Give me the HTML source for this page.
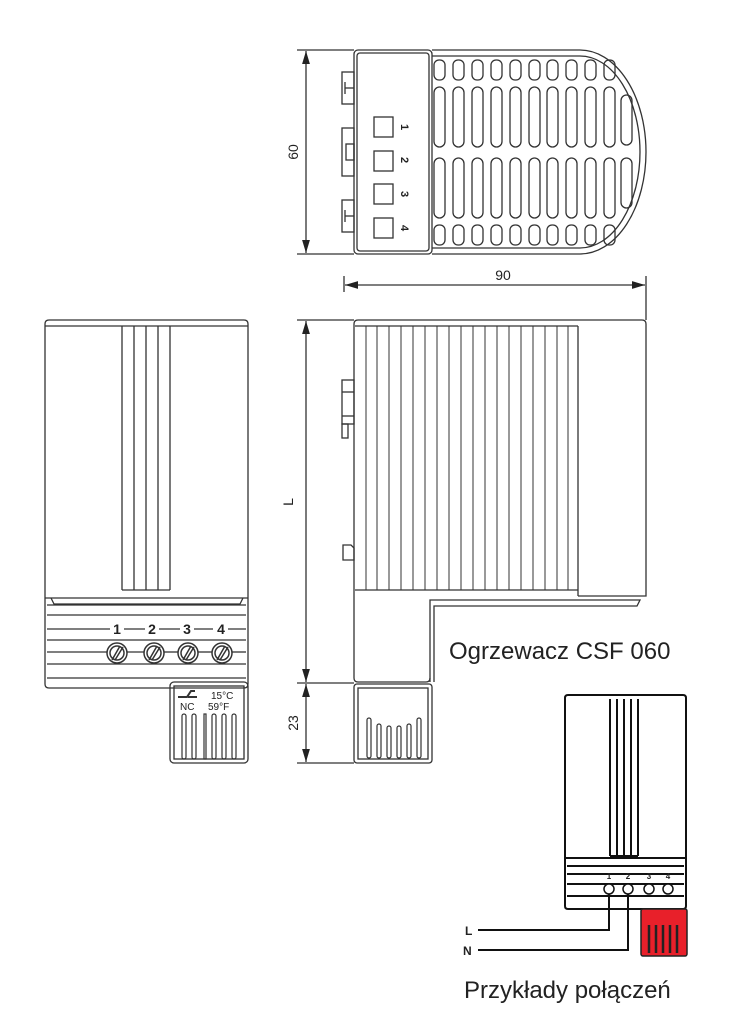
<!DOCTYPE html>
<html><head><meta charset="utf-8"><style>
html,body{margin:0;padding:0;background:#fff;}
svg{display:block;}
text{font-family:"Liberation Sans",sans-serif;fill:#222;}
</style></head><body>
<svg width="751" height="1016" viewBox="0 0 751 1016" xmlns="http://www.w3.org/2000/svg">
<defs>
<marker id="ar" viewBox="0 0 10 6" refX="10" refY="3" markerWidth="10" markerHeight="6" orient="auto-start-reverse"><path d="M0,0 L10,3 L0,6 z" fill="#222"/></marker>
</defs>
<g fill="none" stroke="#333" stroke-width="1.3">
<!-- TOP VIEW -->
<path d="M432,50 H580 A66,102 0 0 1 580,254 H432"/>
<path d="M432,56 H580 A60,96 0 0 1 580,248 H432"/>
<rect x="354" y="50" width="78" height="204" rx="4"/>
<rect x="357" y="53" width="72" height="198" rx="3"/>
<g>
<rect x="342" y="72" width="12" height="32"/><line x1="345" y1="82" x2="345" y2="94"/><line x1="345" y1="88" x2="354" y2="88"/>
<rect x="342" y="128" width="12" height="48"/><rect x="346" y="144" width="8" height="16"/>
<rect x="342" y="200" width="12" height="32"/><line x1="345" y1="210" x2="345" y2="222"/><line x1="345" y1="216" x2="354" y2="216"/>
</g>
<rect x="374" y="117" width="19" height="20"/>
<rect x="374" y="151" width="19" height="20"/>
<rect x="374" y="184" width="19" height="20"/>
<rect x="374" y="218" width="19" height="20"/>
<g id="slots">
<rect x="434" y="60" width="11" height="20" rx="5"/><rect x="434" y="87" width="11" height="60" rx="5.5"/><rect x="434" y="158" width="11" height="60" rx="5.5"/><rect x="434" y="225" width="11" height="20" rx="5"/>
</g>
<use href="#slots" x="19"/><use href="#slots" x="38"/><use href="#slots" x="57"/><use href="#slots" x="76"/><use href="#slots" x="95"/><use href="#slots" x="113"/><use href="#slots" x="132"/><use href="#slots" x="151"/><use href="#slots" x="170"/>
<rect x="621" y="95" width="11" height="50" rx="5.5"/><rect x="621" y="158" width="11" height="50" rx="5.5"/>
<!-- dim 60 -->
<line x1="297" y1="50" x2="354" y2="50"/><line x1="297" y1="254" x2="354" y2="254"/>
<line x1="306" y1="51" x2="306" y2="253" marker-start="url(#ar)" marker-end="url(#ar)"/>
<!-- dim 90 -->
<line x1="344" y1="276" x2="344" y2="292"/><line x1="646" y1="276" x2="646" y2="320"/>
<line x1="345" y1="285" x2="645" y2="285" marker-start="url(#ar)" marker-end="url(#ar)"/>

<!-- SIDE VIEW -->
<path d="M354,600 V324 Q354,320 358,320 H642 Q646,320 646,324 V596 H578"/>
<line x1="355" y1="326" x2="578" y2="326"/>
<line x1="578" y1="326" x2="578" y2="596"/>
<line x1="355" y1="590" x2="578" y2="590"/>
<g stroke-width="1">
<line x1="366" y1="326" x2="366" y2="590"/><line x1="377" y1="326" x2="377" y2="590"/><line x1="389" y1="326" x2="389" y2="590"/><line x1="401" y1="326" x2="401" y2="590"/><line x1="413" y1="326" x2="413" y2="590"/><line x1="425" y1="326" x2="425" y2="590"/><line x1="437" y1="326" x2="437" y2="590"/><line x1="449" y1="326" x2="449" y2="590"/><line x1="461" y1="326" x2="461" y2="590"/><line x1="473" y1="326" x2="473" y2="590"/><line x1="485" y1="326" x2="485" y2="590"/><line x1="497" y1="326" x2="497" y2="590"/><line x1="509" y1="326" x2="509" y2="590"/><line x1="521" y1="326" x2="521" y2="590"/><line x1="533" y1="326" x2="533" y2="590"/><line x1="545" y1="326" x2="545" y2="590"/><line x1="557" y1="326" x2="557" y2="590"/><line x1="568" y1="326" x2="568" y2="590"/>
</g>
<path d="M430,682 V600 H640 L637,606 H434 V682"/>
<path d="M354,600 V678 Q354,682 358,682 H426 Q430,682 430,678"/>
<rect x="342" y="380" width="12" height="44"/><line x1="342" y1="392" x2="354" y2="392"/><line x1="342" y1="416" x2="354" y2="416"/><rect x="342" y="424" width="6" height="14"/>
<path d="M343,545 H351 L354,548 V560 H343 Z"/>
<rect x="354" y="684" width="78" height="79" rx="3"/>
<rect x="358" y="688" width="70" height="71"/>
<g stroke-width="1.2">
<rect x="367" y="718" width="4" height="40" rx="2"/><rect x="377" y="724" width="4" height="34" rx="2"/><rect x="387" y="726" width="4" height="32" rx="2"/><rect x="397" y="726" width="4" height="32" rx="2"/><rect x="407" y="724" width="4" height="34" rx="2"/><rect x="417" y="718" width="4" height="40" rx="2"/>
</g>
<!-- dim L / 23 -->
<line x1="297" y1="320" x2="354" y2="320"/><line x1="297" y1="683" x2="354" y2="683"/><line x1="297" y1="763" x2="354" y2="763"/>
<line x1="306" y1="321" x2="306" y2="682" marker-start="url(#ar)" marker-end="url(#ar)"/>
<line x1="306" y1="684" x2="306" y2="762" marker-start="url(#ar)" marker-end="url(#ar)"/>

<!-- FRONT VIEW -->
<path d="M45,598 V324 Q45,320 49,320 H244 Q248,320 248,324 V598"/>
<line x1="45" y1="326" x2="248" y2="326"/>
<line x1="122" y1="326" x2="122" y2="590"/><line x1="134" y1="326" x2="134" y2="590"/><line x1="146" y1="326" x2="146" y2="590"/><line x1="158" y1="326" x2="158" y2="590"/><line x1="170" y1="326" x2="170" y2="590"/>
<line x1="122" y1="590" x2="170" y2="590"/>
<path d="M45,598 H248 M51,598 L54,604 H240 L243,598"/>
<path d="M45,598 V684 Q45,688 49,688 H244 Q248,688 248,684 V598"/>
<line x1="47" y1="605" x2="246" y2="605"/><line x1="47" y1="615" x2="246" y2="615"/>
<line x1="47" y1="629" x2="110" y2="629"/><line x1="124" y1="629" x2="145" y2="629"/><line x1="159" y1="629" x2="180" y2="629"/><line x1="194" y1="629" x2="213" y2="629"/><line x1="228" y1="629" x2="246" y2="629"/>
<line x1="47" y1="640" x2="246" y2="640"/>
<line x1="47" y1="652" x2="107" y2="652"/><line x1="127" y1="652" x2="144" y2="652"/><line x1="164" y1="652" x2="178" y2="652"/><line x1="198" y1="652" x2="212" y2="652"/><line x1="232" y1="652" x2="246" y2="652"/>
<line x1="47" y1="664" x2="246" y2="664"/><line x1="47" y1="678" x2="246" y2="678"/>
<g stroke-width="1.5">
<circle cx="117" cy="653" r="10"/><circle cx="117" cy="653" r="7"/><line x1="112" y1="660" x2="120" y2="646"/><line x1="115" y1="660" x2="123" y2="647"/>
<circle cx="154" cy="653" r="10"/><circle cx="154" cy="653" r="7"/><line x1="149" y1="660" x2="157" y2="646"/><line x1="152" y1="660" x2="160" y2="647"/>
<circle cx="188" cy="653" r="10"/><circle cx="188" cy="653" r="7"/><line x1="183" y1="660" x2="191" y2="646"/><line x1="186" y1="660" x2="194" y2="647"/>
<circle cx="222" cy="653" r="10"/><circle cx="222" cy="653" r="7"/><line x1="217" y1="660" x2="225" y2="646"/><line x1="220" y1="660" x2="228" y2="647"/>
</g>
<rect x="170" y="682" width="78" height="81" rx="4"/>
<rect x="174" y="686" width="70" height="73"/>
<g stroke-width="1.2">
<rect x="182" y="714" width="4" height="45" rx="2"/><rect x="192" y="714" width="4" height="45" rx="2"/><rect x="204" y="714" width="2" height="45"/><rect x="212" y="714" width="4" height="45" rx="2"/><rect x="222" y="714" width="4" height="45" rx="2"/><rect x="232" y="714" width="4" height="45" rx="2"/>
</g>
<path d="M178,697 H187 L191,691 H195 M188,697 H197" stroke-width="2"/>

<!-- CONNECTION EXAMPLE -->
<g stroke="#111" stroke-width="2">
<path d="M565,860 V698 Q565,695 568,695 H683 Q686,695 686,698 V860"/>
<line x1="610" y1="699" x2="610" y2="856"/><line x1="617" y1="699" x2="617" y2="856"/><line x1="624" y1="699" x2="624" y2="856"/><line x1="631" y1="699" x2="631" y2="856"/><line x1="638" y1="699" x2="638" y2="856"/>
<line x1="610" y1="856" x2="638" y2="856"/>
<path d="M565,858 V906 Q565,909 568,909 H683 Q686,909 686,906 V858 Z"/>
<line x1="567" y1="866" x2="684" y2="866"/>
<line x1="567" y1="874" x2="684" y2="874"/>
<line x1="567" y1="884" x2="684" y2="884"/>
<line x1="567" y1="896" x2="684" y2="896"/>
<path d="M609,892 V930 H478"/>
<path d="M628,892 V950 H478"/>
</g>
<g stroke="#111" stroke-width="1.5" fill="#fff">
<circle cx="609" cy="889" r="5"/><circle cx="628" cy="889" r="5"/><circle cx="649" cy="889" r="5"/><circle cx="668" cy="889" r="5"/>
</g>
</g>
<rect x="641" y="909" width="46" height="47" rx="2" fill="#e8202a" stroke="#222" stroke-width="1.5"/>
<rect x="645" y="913" width="38" height="17" fill="#e8202a"/>
<g stroke="#222" stroke-width="2.5">
<line x1="649" y1="925" x2="649" y2="953"/><line x1="656" y1="925" x2="656" y2="953"/><line x1="663" y1="925" x2="663" y2="953"/><line x1="670" y1="925" x2="670" y2="953"/><line x1="677" y1="925" x2="677" y2="953"/>
</g>

<!-- TEXT -->
<text x="298" y="152" font-size="14" text-anchor="middle" transform="rotate(-90 298 152)">60</text>
<text x="503" y="280" font-size="14" text-anchor="middle">90</text>
<text x="293" y="502" font-size="14" text-anchor="middle" transform="rotate(-90 293 502)">L</text>
<text x="298" y="723" font-size="14" text-anchor="middle" transform="rotate(-90 298 723)">23</text>
<g font-size="11" font-weight="bold">
<text x="401" y="127" transform="rotate(90 401 127)" text-anchor="middle">1</text>
<text x="401" y="160" transform="rotate(90 401 160)" text-anchor="middle">2</text>
<text x="401" y="194" transform="rotate(90 401 194)" text-anchor="middle">3</text>
<text x="401" y="228" transform="rotate(90 401 228)" text-anchor="middle">4</text>
</g>
<g font-size="14" font-weight="bold" text-anchor="middle">
<text x="117" y="634">1</text><text x="152" y="634">2</text><text x="187" y="634">3</text><text x="221" y="634">4</text>
</g>
<text x="180" y="710" font-size="10">NC</text>
<text x="211" y="699" font-size="10">15°C</text>
<text x="208" y="710" font-size="10">59°F</text>
<g font-size="8" font-weight="bold" text-anchor="middle">
<text x="609" y="879">1</text><text x="628" y="879">2</text><text x="649" y="879">3</text><text x="668" y="879">4</text>
</g>
<text x="465" y="935" font-size="12" font-weight="bold">L</text>
<text x="463" y="955" font-size="12" font-weight="bold">N</text>
<text x="449" y="659" font-size="24">Ogrzewacz CSF 060</text>
<text x="464" y="998" font-size="24">Przykłady połączeń</text>
</svg>
</body></html>
